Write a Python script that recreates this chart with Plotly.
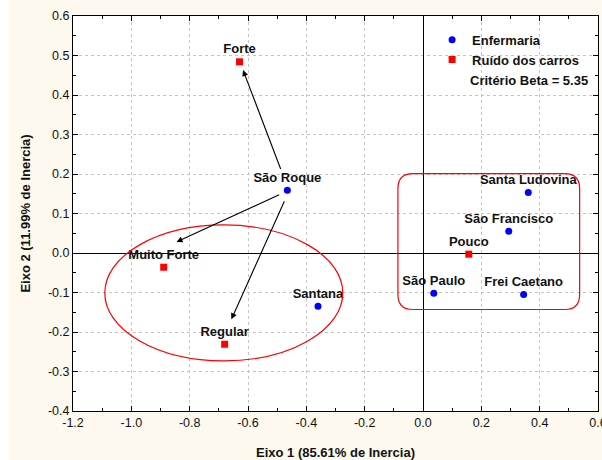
import plotly.graph_objects as go

# Correspondence analysis coordinates (Eixo 1, Eixo 2)
enfermaria_nomes = ["São Roque", "Santana", "Santa Ludovina", "São Francisco",
                    "São Paulo", "Frei Caetano"]
enfermaria_x = [-0.465, -0.360, 0.361, 0.294, 0.037, 0.345]
enfermaria_y = [0.159, -0.135, 0.153, 0.055, -0.102, -0.105]

ruido_nomes = ["Forte", "Muito Forte", "Regular", "Pouco"]
ruido_x = [-0.629, -0.889, -0.680, 0.157]
ruido_y = [0.484, -0.036, -0.231, -0.003]

# Arrows drawn from São Roque towards the associated noise levels
seta_inicio_x = [-0.486, -0.488, -0.473]
seta_inicio_y = [0.209, 0.149, 0.135]
seta_fim_x = [-0.617, -0.845, -0.657]
seta_fim_y = [0.463, 0.028, -0.168]

# Grouping outlines: ellipse (centre, semi-axes) and rounded box (bounds)
elipse_centro = (-0.683, -0.101)
elipse_semieixos = (0.408, 0.172)
caixa_limites = (-0.086, 0.537, -0.143, 0.201)  # x0, x1, y0, y1
caixa_raio = (0.051, 0.038)

criterio_beta = 5.35

x_ticks = [-1.2, -1.0, -0.8, -0.6, -0.4, -0.2, 0.0, 0.2, 0.4, 0.6]
y_ticks = [0.6, 0.5, 0.4, 0.3, 0.2, 0.1, 0.0, -0.1, -0.2, -0.3, -0.4]

FONT = "Liberation Sans, Arial, sans-serif"
CREAM = "#fdf9ee"

fig = go.Figure()

fig.add_trace(go.Scatter(
    x=enfermaria_x, y=enfermaria_y, mode="markers+text", name="Enfermaria",
    text=enfermaria_nomes, textposition="top center",
    textfont=dict(family=FONT, size=13, color="#111111", weight="bold"),
    marker=dict(symbol="circle", size=7, color="#0000ff"),
    cliponaxis=False,
))
fig.add_trace(go.Scatter(
    x=ruido_x, y=ruido_y, mode="markers+text", name="Ruído dos carros",
    text=ruido_nomes, textposition="top center",
    textfont=dict(family=FONT, size=13, color="#111111", weight="bold"),
    marker=dict(symbol="square", size=7, color="#ff0000"),
    cliponaxis=False,
))

for x0, y0, x1, y1 in zip(seta_inicio_x, seta_inicio_y, seta_fim_x, seta_fim_y):
    fig.add_annotation(
        x=x1, y=y1, ax=x0, ay=y0, xref="x", yref="y", axref="x", ayref="y",
        text="", showarrow=True, arrowhead=2, arrowsize=1.1, arrowwidth=1.1,
        arrowcolor="#000000", standoff=0,
    )

cx, cy = elipse_centro
ax_, ay_ = elipse_semieixos
fig.add_shape(type="circle", xref="x", yref="y",
              x0=cx - ax_, x1=cx + ax_, y0=cy - ay_, y1=cy + ay_,
              line=dict(color="#ff0000", width=1.2))

bx0, bx1, by0, by1 = caixa_limites
rx, ry = caixa_raio
caminho = (
    f"M {bx0 + rx},{by1} L {bx1 - rx},{by1} Q {bx1},{by1} {bx1},{by1 - ry} "
    f"L {bx1},{by0 + ry} Q {bx1},{by0} {bx1 - rx},{by0} "
    f"L {bx0 + rx},{by0} Q {bx0},{by0} {bx0},{by0 + ry} "
    f"L {bx0},{by1 - ry} Q {bx0},{by1} {bx0 + rx},{by1} Z"
)
fig.add_shape(type="path", path=caminho, xref="x", yref="y",
              line=dict(color="#ff0000", width=1.2))

# white strips along the top and left edges of the page
fig.add_shape(type="rect", xref="paper", yref="paper", layer="below",
              x0=-0.2, x1=1.1, y0=1.0405, y1=1.2, fillcolor="white", line_width=0)
fig.add_shape(type="rect", xref="paper", yref="paper", layer="below",
              x0=-0.2, x1=-0.1225, y0=-0.2, y1=1.2, fillcolor="white", line_width=0)

fig.add_annotation(
    xref="paper", yref="paper", x=0.753, y=0.8356, xanchor="left", yanchor="middle",
    text=f"Critério Beta = {criterio_beta}", showarrow=False,
    font=dict(family=FONT, size=13, color="#111111", weight="bold"),
)

axis_common = dict(
    showline=True, linecolor="#000000", linewidth=1, mirror="ticks",
    ticks="inside", ticklen=5, tickcolor="#000000", tickwidth=1,
    showgrid=True, gridcolor="#c4c4c4", griddash="dot", gridwidth=1,
    zeroline=True, zerolinecolor="#000000", zerolinewidth=1,
    tickfont=dict(family=FONT, size=12.5, color="#111111"),
    title_font=dict(family=FONT, size=13, color="#111111", weight="bold"),
    automargin=False,
)

fig.update_xaxes(
    range=[-1.2, 0.6], tickvals=x_ticks, ticktext=[f"{v:.1f}" for v in x_ticks],
    minor=dict(ticks="inside", ticklen=3, tickcolor="#000000", dtick=0.1, showgrid=False),
    title_text="Eixo 1 (85.61% de Inercia)", title_standoff=18,
    ticklabeloverflow="allow",
    **axis_common,
)
fig.update_yaxes(
    range=[-0.4, 0.6], tickvals=y_ticks, ticktext=[f"{v:.1f}" for v in y_ticks],
    minor=dict(ticks="inside", ticklen=3, tickcolor="#000000", dtick=0.05, showgrid=False),
    title_text="Eixo 2 (11.99% de Inercia)", title_standoff=14,
    **axis_common,
)

fig.update_layout(
    width=602, height=460,
    margin=dict(l=73, r=4, t=16, b=49, autoexpand=False),
    paper_bgcolor=CREAM, plot_bgcolor="#ffffff",
    font=dict(family=FONT, color="#111111"),
    showlegend=True,
    legend=dict(
        x=0.684, y=0.978, xanchor="left", yanchor="top",
        bgcolor="rgba(0,0,0,0)", borderwidth=0,
        font=dict(family=FONT, size=13, color="#111111", weight="bold"),
        itemclick=False, tracegroupgap=0,
    ),
)

fig.write_html("out.html")
